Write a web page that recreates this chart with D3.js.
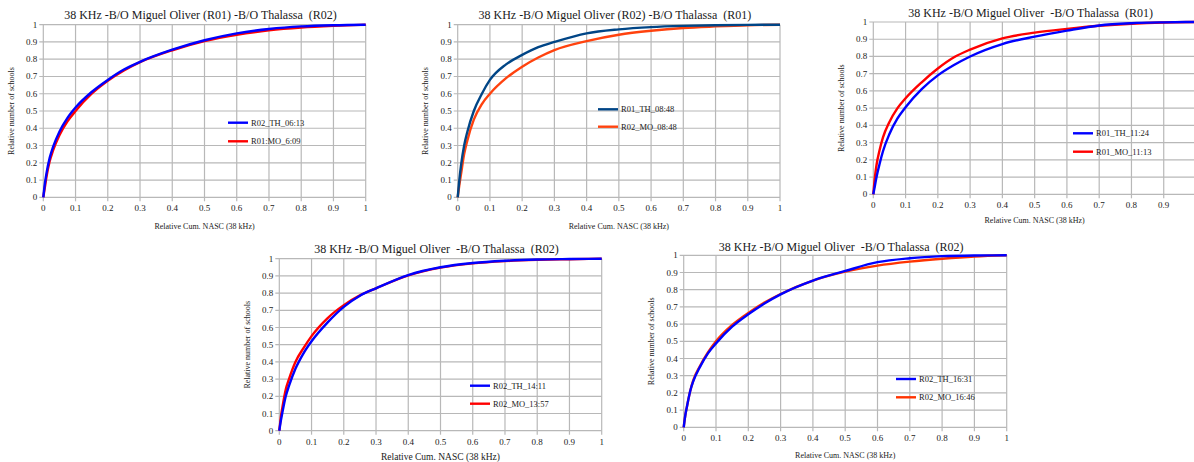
<!DOCTYPE html>
<html>
<head>
<meta charset="utf-8">
<script src="https://cdn.jsdelivr.net/npm/d3@7"></script>
<style>
  body { margin: 0; background: #fff; }
  svg { display: block; }
  svg text { font-family: "Liberation Serif", "Times New Roman", "DejaVu Serif", serif; white-space: pre; }
</style>
</head>
<body>
<svg id="chart" width="1194" height="462"></svg>
<script>
// tick values shared by every panel
var xTicks = [0, 0.1, 0.2, 0.3, 0.4, 0.5, 0.6, 0.7, 0.8, 0.9, 1];
var yTicks = [0, 0.1, 0.2, 0.3, 0.4, 0.5, 0.6, 0.7, 0.8, 0.9, 1];

// x positions where the curves were read
var cumNasc = [0, 0.005, 0.01, 0.02, 0.03, 0.05, 0.075, 0.1, 0.15, 0.2, 0.25, 0.3, 0.4, 0.5, 0.6, 0.7, 0.8, 0.9, 1];

// panel 1 : R01 vs R02 06h
var p1Names = ["R02_TH_06:13", "R01:MO_6:09"];
var p1Blue = [0, 0.08, 0.14, 0.23, 0.29, 0.38, 0.46, 0.52, 0.61, 0.68, 0.74, 0.785, 0.855, 0.91, 0.95, 0.975, 0.99, 0.997, 1];
var p1Red  = [0, 0.06, 0.12, 0.21, 0.27, 0.36, 0.44, 0.50, 0.60, 0.675, 0.735, 0.783, 0.852, 0.905, 0.942, 0.967, 0.983, 0.993, 1];

// panel 2 : 08h48
var p2Names = ["R01_TH_08:48", "R02_MO_08:48"];
var p2Blue = [0, 0.10, 0.18, 0.30, 0.38, 0.50, 0.60, 0.68, 0.77, 0.825, 0.87, 0.90, 0.95, 0.973, 0.986, 0.993, 0.997, 0.999, 1];
var p2Red  = [0, 0.07, 0.13, 0.25, 0.33, 0.45, 0.54, 0.60, 0.69, 0.757, 0.81, 0.853, 0.905, 0.942, 0.965, 0.981, 0.99, 0.997, 1];

// panel 3 : 11h
var p3Names = ["R01_TH_11:24", "R01_MO_11:13"];
var p3Blue = [0, 0.05, 0.10, 0.18, 0.25, 0.35, 0.44, 0.505, 0.61, 0.69, 0.75, 0.80, 0.872, 0.915, 0.95, 0.98, 0.993, 0.998, 1];
var p3Red  = [0, 0.10, 0.17, 0.26, 0.33, 0.42, 0.50, 0.557, 0.65, 0.73, 0.795, 0.84, 0.905, 0.938, 0.96, 0.978, 0.99, 0.997, 1];

// panel 4 : 14h
var p4Names = ["R02_TH_14:11", "R02_MO_13:57"];
var p4Blue = [0, 0.06, 0.11, 0.20, 0.26, 0.36, 0.45, 0.52, 0.63, 0.72, 0.785, 0.828, 0.905, 0.95, 0.975, 0.988, 0.995, 0.998, 1];
var p4Red  = [0, 0.08, 0.14, 0.24, 0.30, 0.40, 0.48, 0.55, 0.655, 0.73, 0.787, 0.828, 0.903, 0.948, 0.973, 0.986, 0.993, 0.997, 1];

// panel 5 : 16h
var p5Names = ["R02_TH_16:31", "R02_MO_16:46"];
var p5Blue = [0, 0.07, 0.12, 0.21, 0.27, 0.35, 0.43, 0.488, 0.585, 0.657, 0.72, 0.773, 0.853, 0.909, 0.96, 0.983, 0.995, 0.999, 1];
var p5Red  = [0, 0.07, 0.12, 0.21, 0.275, 0.355, 0.435, 0.50, 0.595, 0.665, 0.725, 0.775, 0.853, 0.905, 0.94, 0.963, 0.98, 0.993, 1];

var titles = [
  "38 KHz -B/O Miguel Oliver (R01) -B/O Thalassa  (R02)",
  "38 KHz -B/O Miguel Oliver (R02) -B/O Thalassa  (R01)",
  "38 KHz -B/O Miguel Oliver  -B/O Thalassa  (R01)",
  "38 KHz -B/O Miguel Oliver  -B/O Thalassa  (R02)",
  "38 KHz -B/O Miguel Oliver  -B/O Thalassa  (R02)"
];

// layout of each panel (plot box, legend, label positions)
var panels = [
  {x0: 43.3, x1: 365.7, y0: 197.3, y1: 24.7, titleY: 15, xLabY: 226, yLabX: 11, xLabSize: 8,
   legX: 228, legY: [122.7, 141.3], names: p1Names, series: [p1Blue, p1Red], colors: ["#0000ff", "#ff0000"]},
  {x0: 457.7, x1: 780, y0: 197.3, y1: 24.7, titleY: 15, xLabY: 226, yLabX: 425, xLabSize: 8,
   legX: 598, legY: [109.3, 126.7], names: p2Names, series: [p2Blue, p2Red], colors: ["#004586", "#ff420e"]},
  {x0: 873.3, x1: 1196, y0: 194.3, y1: 22, titleY: 12.7, xLabY: 220.3, yLabX: 840.7, xLabSize: 8,
   legX: 1073, legY: [133.3, 151.7], names: p3Names, series: [p3Blue, p3Red], colors: ["#0000ff", "#ff0000"]},
  {x0: 279.3, x1: 601.7, y0: 430.7, y1: 258.7, titleY: 249.3, xLabY: 456.7, yLabX: 246.7, xLabSize: 9.5,
   legX: 470, legY: [385.7, 403.7], names: p4Names, series: [p4Blue, p4Red], colors: ["#0000ff", "#ff0000"]},
  {x0: 683.7, x1: 1006.7, y0: 427.3, y1: 255.3, titleY: 247, xLabY: 455, yLabX: 651, xLabSize: 8,
   legX: 896, legY: [379, 397.3], names: p5Names, series: [p5Blue, p5Red], colors: ["#0000ff", "#ff3300"]}
];

var svg = d3.select("#chart");
var gridColor = "#b8b8b8";
var textColor = "#1a1a1a";
var W = +svg.attr("width");

panels.forEach(function (p, i) {
  var x = d3.scaleLinear().domain([0, 1]).range([p.x0, p.x1]);
  var y = d3.scaleLinear().domain([0, 1]).range([p.y0, p.y1]);
  var g = svg.append("g");

  // grid
  g.selectAll(".vgrid").data(xTicks).enter().append("line")
    .attr("x1", d => x(d)).attr("x2", d => x(d))
    .attr("y1", p.y1).attr("y2", p.y0 + 4)
    .attr("stroke", gridColor).attr("stroke-width", 1.2);
  g.selectAll(".hgrid").data(yTicks).enter().append("line")
    .attr("x1", p.x0 - 4).attr("x2", p.x1)
    .attr("y1", d => y(d)).attr("y2", d => y(d))
    .attr("stroke", gridColor).attr("stroke-width", 1.2);

  // tick labels (the last one of the right panel falls off the page)
  g.selectAll(".xt").data(xTicks.filter(d => x(d) < W - 4)).enter().append("text")
    .attr("x", d => x(d)).attr("y", p.y0 + 14)
    .attr("text-anchor", "middle").attr("font-size", 9).attr("fill", textColor)
    .text(d => d3.format("")(d));
  g.selectAll(".yt").data(yTicks).enter().append("text")
    .attr("x", p.x0 - 6).attr("y", d => y(d) + 3)
    .attr("text-anchor", "end").attr("font-size", 9).attr("fill", textColor)
    .text(d => d3.format("")(d));

  // curves
  var line = d3.line()
    .x((d, k) => x(cumNasc[k]))
    .y(d => y(d))
    .curve(d3.curveMonotoneX);
  // red first, blue on top
  [1, 0].forEach(function (s) {
    g.append("path")
      .attr("d", line(p.series[s]))
      .attr("fill", "none")
      .attr("stroke", p.colors[s])
      .attr("stroke-width", 2.4);
  });

  // legend
  p.names.forEach(function (name, s) {
    g.append("line")
      .attr("x1", p.legX).attr("x2", p.legX + 20)
      .attr("y1", p.legY[s]).attr("y2", p.legY[s])
      .attr("stroke", p.colors[s]).attr("stroke-width", 2.4);
    g.append("text")
      .attr("x", p.legX + 23).attr("y", p.legY[s] + 3)
      .attr("font-size", 8.5).attr("fill", textColor)
      .text(name);
  });

  // title and axis labels
  g.append("text")
    .attr("x", (p.x0 + p.x1) / 2 - 4).attr("y", p.titleY + 4)
    .attr("text-anchor", "middle").attr("font-size", 12).attr("fill", textColor)
    .text(titles[i]);
  g.append("text")
    .attr("x", (p.x0 + p.x1) / 2).attr("y", p.xLabY + 3)
    .attr("text-anchor", "middle").attr("font-size", p.xLabSize).attr("fill", textColor)
    .text("Relative Cum. NASC (38 kHz)");
  g.append("text")
    .attr("transform", "translate(" + (p.yLabX + 3) + "," + ((p.y0 + p.y1) / 2) + ") rotate(-90)")
    .attr("text-anchor", "middle").attr("font-size", 8).attr("fill", textColor)
    .text("Relative number of schools");
});
</script>
</body>
</html>
